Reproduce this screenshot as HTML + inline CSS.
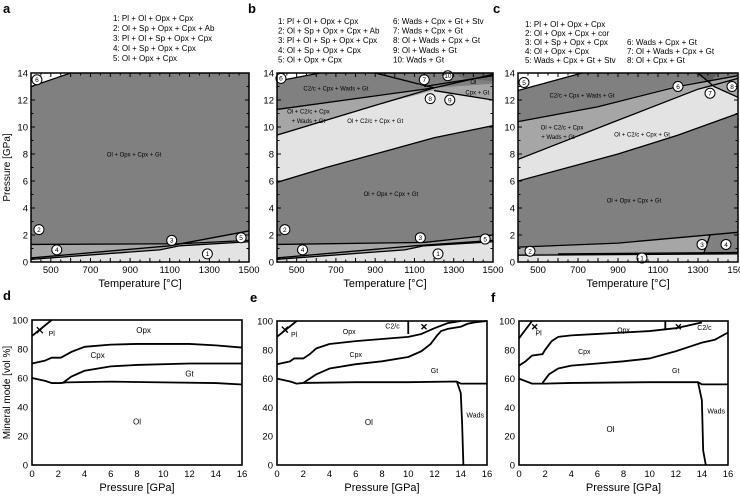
<!DOCTYPE html>
<html><head><meta charset="utf-8"><style>
html,body{margin:0;padding:0;background:#fff;}
svg{display:block;font-family:"Liberation Sans",sans-serif;}
</style></head><body>
<svg id="fig" width="740" height="496" viewBox="0 0 740 496"></svg>
<script>
// ---------- data: phase diagrams (T [°C], P [GPa]) ----------
const xTicksT = [500,700,900,1100,1300,1500];
const yTicksP = [0,2,4,6,8,10,12,14];
const xTicksP = [0,2,4,6,8,10,12,14,16];
const yTicksM = [0,20,40,60,80,100];

// panel a
const aRegions = [
 {fill:"#808080", pts:[[400,0],[400,14],[1500,14],[1500,0]]},
 {fill:"#ffffff", pts:[[400,13],[400,14],[600,14]]},
 {fill:"#a6a6a6", pts:[[400,0.2],[400,1.3],[1150,1.35],[1500,1.6],[1500,1.4],[1150,1.2],[1050,0.9]]},
 {fill:"#9a9a9a", pts:[[1100,1.2],[1500,2.3],[1500,1.6],[1150,1.35]]},
 {fill:"#e3e3e3", pts:[[400,0],[400,0.2],[1050,0.9],[1150,1.2],[1500,1.5],[1500,0]]}
];
const aLines = [
 [[400,13],[600,14]], [[400,1.3],[1150,1.35],[1500,1.6]], [[400,0.3],[1100,1.2],[1500,2.3]],
 [[400,0.2],[1050,0.9],[1150,1.2],[1500,1.5]]
];
const aCircles = [["6",430,13.5],["2",440,2.4],["4",530,0.9],["3",1110,1.6],["5",1460,1.8],["1",1290,0.6]];
const aLabels = [["Ol + Opx + Cpx + Gt",920,7.8]];

// panel b
const bRegions = [
 {fill:"#808080", pts:[[400,0],[400,14],[1500,14],[1500,0]]},
 {fill:"#a6a6a6", pts:[[400,5.9],[650,7],[900,8],[1200,9.2],[1500,10.1],[1500,13.2],[1200,12.9],[400,11.3]]},
 {fill:"#e3e3e3", pts:[[400,5.9],[650,7],[900,8],[1200,9.2],[1500,10.1],[1500,12],[1200,12.7],[900,11.6],[400,9.4]]},
 {fill:"#ffffff", pts:[[400,13.4],[400,14],[620,14]]},
 {fill:"#6a6a6a", pts:[[1300,14],[1500,14],[1500,13.4],[1350,13.6]]},
 {fill:"#a6a6a6", pts:[[400,0.2],[400,1.3],[1150,1.5],[1500,2],[1500,1.4],[1150,1.2],[1050,0.9]]},
 {fill:"#e3e3e3", pts:[[400,0],[400,0.2],[1050,0.9],[1150,1.2],[1500,1.5],[1500,0]]}
];
const bLines = [
 [[400,5.9],[650,7],[900,8],[1200,9.2],[1500,10.1]],
 [[400,9.4],[900,11.6],[1200,12.9],[1500,13.9]],
 [[400,11.3],[1200,12.9]], [[1200,12.7],[1500,12]],
 [[400,13.4],[620,14]], [[900,14],[1200,12.9]], [[1150,13],[1500,13.8]],
 [[400,1.3],[1150,1.45],[1500,2]], [[400,0.3],[1100,1.2],[1500,1.6]],
 [[400,0.2],[1050,0.9],[1150,1.2],[1500,1.5]]
];
const bCircles = [["6",420,13.6],["7",1150,13.5],["10",1270,13.8],["8",1180,12.1],["9",1280,12],["2",440,2.4],["4",530,0.9],["3",1130,1.8],["5",1460,1.7],["1",1220,0.6]];
const bLabels = [["C2/c + Cpx + Wads + Gt",700,12.7],["Ol + C2/c + Cpx",560,11],["+ Wads + Gt",560,10.3],["Ol + C2/c + Cpx + Gt",900,10.3],["Ol + Opx + Cpx + Gt",980,4.9],["Ol",1400,13.2],["Cpx + Gt",1420,12.4]];

// panel c
const cRegions = [
 {fill:"#808080", pts:[[400,0],[400,14],[1500,14],[1500,0]]},
 {fill:"#a6a6a6", pts:[[400,6],[900,8],[1200,9.4],[1500,11],[1500,13.8],[1200,13.1],[800,11.5],[400,10.4]]},
 {fill:"#e3e3e3", pts:[[400,6],[900,8],[1200,9.4],[1500,11],[1500,12.2],[1380,13],[1300,12.8],[900,10.5],[400,7.6]]},
 {fill:"#ffffff", pts:[[400,12.7],[400,14],[720,14]]},
 {fill:"#5e5e5e", pts:[[1280,14],[1400,14],[1360,13.3]]},
 {fill:"#a6a6a6", pts:[[400,0.5],[400,1.1],[900,1.4],[1500,2.2],[1500,0.7],[400,0.6]]},
 {fill:"#808080", pts:[[1330,0.7],[1360,2],[1500,2.2],[1500,0.7]]},
 {fill:"#e3e3e3", pts:[[400,0],[400,0.5],[1500,0.6],[1500,0]]}
];
const cLines = [
 [[400,6],[900,8],[1200,9.4],[1500,11]], [[400,7.6],[900,10.5],[1300,12.8],[1500,13.6]],
 [[400,10.4],[800,11.5],[1200,13],[1500,13.8]], [[1380,13],[1500,12.2]],
 [[400,12.7],[720,14]], [[1300,14],[1380,13]],
 [[400,1.1],[900,1.4],[1500,2.2]], [[400,0.5],[1500,0.6]], [[600,0.6],[1500,0.7]], [[1330,0.7],[1360,2]]
];
const cCircles = [["5",430,13.3],["6",1200,13],["7",1360,12.5],["8",1470,13],["2",460,0.8],["3",1320,1.3],["4",1440,1.3],["1",1020,0.3]];
const cLabels = [["C2/c + Cpx + Wads + Gt",720,12.2],["Ol + C2/c + Cpx",620,9.8],["+ Wads + Gt",600,9.1],["Ol + C2/c + Cpx + Gt",1020,9.3],["Ol + Opx + Cpx + Gt",980,4.4]];

// ---------- data: mineral modes (P [GPa], vol %) ----------
const dPl = [[0,89],[1.5,100]];
const dOpxCpx = [[0,70],[1,72],[1.5,74],[2.2,74],[3,78],[4,81.5],[6,83],[8,83.5],[12,83.5],[14,82.5],[16,81]];
const dCpxGt = [[2.4,57],[3,61],[4,65],[6,68],[8,69],[12,70],[16,70]];
const dOl = [[0,60],[1,58],[1.5,56.5],[2.2,56.5],[2.6,57],[6,57.5],[10,57],[14,56.5],[16,55.5]];

const ePl = [[0,89],[1.5,100]];
const eOpxCpx = [[0,70],[1,72],[1.3,74],[2,74],[2.5,77],[3,81],[4,84],[6,86],[8,87.5],[10,89],[11,91],[12,95],[13,98.5],[14,100]];
const eC2c = [[10,91],[10,100]];
const eCpxGt = [[2,57],[3,63],[4,67],[6,70],[8,72],[10,75],[11,79],[11.7,84],[12.2,90],[12.5,93],[13,94.5],[14,96],[14.5,98],[15,99],[16,100]];
const eOl = [[0,60],[1,58],[1.5,56.5],[2,57],[6,57.5],[10,57.5],[13.7,58],[14,56.5],[16,56.5]];
const eWads = [[13.7,58],[14,50],[14.1,30],[14.2,0]];

const fPl = [[0,88],[1,100]];
const fOpxCpx = [[0,69],[0.5,72],[1,76],[1.8,77],[2,80],[2.5,86],[3,89],[4,90],[6,91],[8,92],[10,93],[12,95],[13,97],[14,99]];
const fC2c = [[11.2,94],[11.2,100]];
const fCpxGt = [[1.8,57],[2.3,63],[3,67],[4,69],[6,70.5],[8,72],[10,74],[12,79],[13,82],[14,85],[15,87],[16,92]];
const fOl = [[0,60],[1,56.5],[2,56.5],[4,57],[10,57.5],[13.7,57.5],[14,56],[16,56]];
const fWads = [[13.7,57.5],[14,45],[14.1,10],[14.3,0]];

const NS="http://www.w3.org/2000/svg";
const svg=document.getElementById('fig');
function el(tag,attrs,parent,txt){const e=document.createElementNS(NS,tag);for(const k in attrs)e.setAttribute(k,attrs[k]);if(txt!==undefined)e.textContent=txt;(parent||svg).appendChild(e);return e;}

function phasePanel(key,x0,x1,y0,y1,regions,lines,circles,labels,showYTitle){
  const g=el('g',{});
  
  
  const sx=T=>x0+(T-400)/1100*(x1-x0), sy=P=>y1-P/14*(y1-y0);
  const cp='clip'+key; const d=el('defs',{},g); el('rect',{x:x0,y:y0,width:x1-x0,height:y1-y0},el('clipPath',{id:cp},d));
  const inner=el('g',{'clip-path':'url(#'+cp+')'},g);
  regions.forEach((r,i)=>{const p=el('polygon',{points:r.pts.map(q=>sx(q[0])+','+sy(q[1])).join(' '),fill:r.fill},inner);
    
    });
  lines.forEach((l,i)=>{const p=el('polyline',{points:l.map(q=>sx(q[0])+','+sy(q[1])).join(' '),fill:'none',stroke:'#000','stroke-width':1.3},inner);
    
    });
  labels.forEach(l=>{const t=el('text',{x:sx(l[1]),y:sy(l[2]),'font-size':6,'text-anchor':'middle'},g,l[0]);
    
    });
  circles.forEach(c=>{const cg=el('g',{},g);
    
    
    el('circle',{cx:sx(c[1]),cy:sy(c[2]),r:5,fill:'#fff',stroke:'#000','stroke-width':1},cg);
    el('text',{x:sx(c[1]),y:sy(c[2])+2.3,'font-size':6.5,'text-anchor':'middle'},cg,c[0]);});
  el('rect',{x:x0,y:y0,width:x1-x0,height:y1-y0,fill:'none',stroke:'#000','stroke-width':1.5},g);
  for(let T=400;T<=1500;T+=50){const X=sx(T),L=(T%100===0)?4:2.5;
    el('line',{x1:X,x2:X,y1:y1,y2:y1-L,stroke:'#000'},g);el('line',{x1:X,x2:X,y1:y0,y2:y0+L,stroke:'#000'},g);}
  for(let P=0;P<=14;P+=1){const Y=sy(P),L=(P%2===0)?4:2.5;
    el('line',{x1:x0,x2:x0+L,y1:Y,y2:Y,stroke:'#000'},g);el('line',{x1:x1,x2:x1-L,y1:Y,y2:Y,stroke:'#000'},g);}
  xTicksT.forEach(T=>{const t=el('text',{x:sx(T),y:y1+11,'font-size':9.5,'text-anchor':'middle'},g,T);
    
    });
  yTicksP.forEach(P=>{const t=el('text',{x:x0-3,y:sy(P)+3.5,'font-size':9.5,'text-anchor':'end'},g,P);
    
    });
  const xt=el('text',{x:(x0+x1)/2,y:y1+25,'font-size':11,'text-anchor':'middle'},g,'Temperature [°C]');
  
  
  if(showYTitle){const yt=el('text',{x:0,y:0,'font-size':10,'text-anchor':'middle',transform:'translate(10,'+((y0+y1)/2)+') rotate(-90)'},g,'Pressure [GPa]');
    
    }
}

function modePanel(key,x0,x1,y0,y1,curves,labels,marks,showYTitle){
  const g=el('g',{});
  
  
  const sx=P=>x0+P/16*(x1-x0), sy=M=>y1-M/100*(y1-y0);
  curves.forEach((c,i)=>{const p=el('polyline',{points:c.map(q=>sx(q[0])+','+sy(q[1])).join(' '),fill:'none',stroke:'#000','stroke-width':1.8,'stroke-linejoin':'round'},g);
    
    });
  marks.forEach(m=>{const X=sx(m[0]),Y=sy(m[1]),s=m[2];
    el('line',{x1:X-s,y1:Y-s,x2:X+s,y2:Y+s,stroke:'#000','stroke-width':1.3},g);
    el('line',{x1:X-s,y1:Y+s,x2:X+s,y2:Y-s,stroke:'#000','stroke-width':1.3},g);});
  labels.forEach(l=>{const t=el('text',{x:sx(l[1]),y:sy(l[2])+3,'font-size':l[3]||8,'text-anchor':'middle'},g,l[0]);
    
    });
  el('rect',{x:x0,y:y0,width:x1-x0,height:y1-y0,fill:'none',stroke:'#000','stroke-width':1.6},g);
  xTicksP.forEach(P=>{const t=el('text',{x:sx(P),y:y1+12,'font-size':9.5,'text-anchor':'middle'},g,P);
    
    });
  yTicksM.forEach(M=>{const t=el('text',{x:x0-4,y:sy(M)+3.5,'font-size':9.5,'text-anchor':'end'},g,M);
    
    });
  const xt=el('text',{x:(x0+x1)/2,y:y1+26,'font-size':11,'text-anchor':'middle'},g,'Pressure [GPa]');
  
  
  if(showYTitle){const yt=el('text',{x:0,y:0,'font-size':10,'text-anchor':'middle',transform:'translate(10,'+((y0+y1)/2)+') rotate(-90)'},g,'Mineral mode [vol %]');
    
    }
}

phasePanel('a',31,249,73,262,aRegions,aLines,aCircles,aLabels,true);
phasePanel('b',277,493,73,262,bRegions,bLines,bCircles,bLabels,false);
phasePanel('c',518,738,73,262,cRegions,cLines,cCircles,cLabels,false);

modePanel('d',32,242,320,465,[dPl,dOpxCpx,dCpxGt,dOl],[["Opx",8.5,93],["Cpx",5,76],["Gt",12,63],["Ol",8,30],["Pl",1.5,91,7]],[[0.6,93,3]],true);
modePanel('e',277,487,321,465,[ePl,eOpxCpx,eC2c,eCpxGt,eOl,eWads],[["Opx",5.5,93,7],["Cpx",6,77,7],["Gt",12,66,7],["Ol",7,30],["Wads",15.1,35,7],["Pl",1.3,91,7],["C2/c",8.8,97,7]],[[0.6,94,3],[11.2,96,2.5]],false);
modePanel('f',519,728,321,465,[fPl,fOpxCpx,fC2c,fCpxGt,fOl,fWads],[["Opx",8,94,7],["Cpx",5,79,7],["Gt",12,66,7],["Ol",7,25],["Wads",15.1,38,7],["Pl",1.5,92,7],["C2/c",14.2,96,7]],[[1.2,96,2.5],[12.2,96,2.5]],false);

// panel letters
[["a",3,13],["b",248,13],["c",493,13],["d",3,300],["e",250,302],["f",491,302]].forEach(p=>{
  const t=el('text',{x:p[1],y:p[2],'font-size':13,'font-weight':'bold'},svg,p[0]);
  
  });

// legends
const legA=["1:  Pl + Ol + Opx + Cpx","2:  Ol + Sp + Opx + Cpx + Ab","3:  Pl + Ol + Sp + Opx + Cpx","4:  Ol + Sp + Opx + Cpx","5:  Ol + Opx + Cpx"];
const legB1=legA;
const legB2=["6:  Wads + Cpx + Gt + Stv","7:  Wads + Cpx + Gt","8:  Ol + Wads + Cpx + Gt","9:  Ol + Wads + Gt","10:  Wads + Gt"];
const legC1=["1:  Pl + Ol + Opx + Cpx","2:  Ol + Opx + Cpx + cor","3:  Ol + Sp + Opx + Cpx","4:  Ol + Opx + Cpx","5:  Wads + Cpx + Gt + Stv"];
const legC2=["6:  Wads + Cpx + Gt","7:  Ol + Wads + Cpx + Gt","8:  Ol + Cpx + Gt"];
function legend(arr,x,y,dy,name){const g=el('g',{});
  
  
  arr.forEach((s,i)=>el('text',{x:x,y:y+i*dy,'font-size':8},g,s));}
legend(legA,113,21,10,'legend-a');
legend(legB1,278,24,9.6,'legend-b-left');
legend(legB2,393,24,9.6,'legend-b-right');
legend(legC1,525,27,9,'legend-c-left');
legend(legC2,627,45,9,'legend-c-right');
</script>
</body></html>
